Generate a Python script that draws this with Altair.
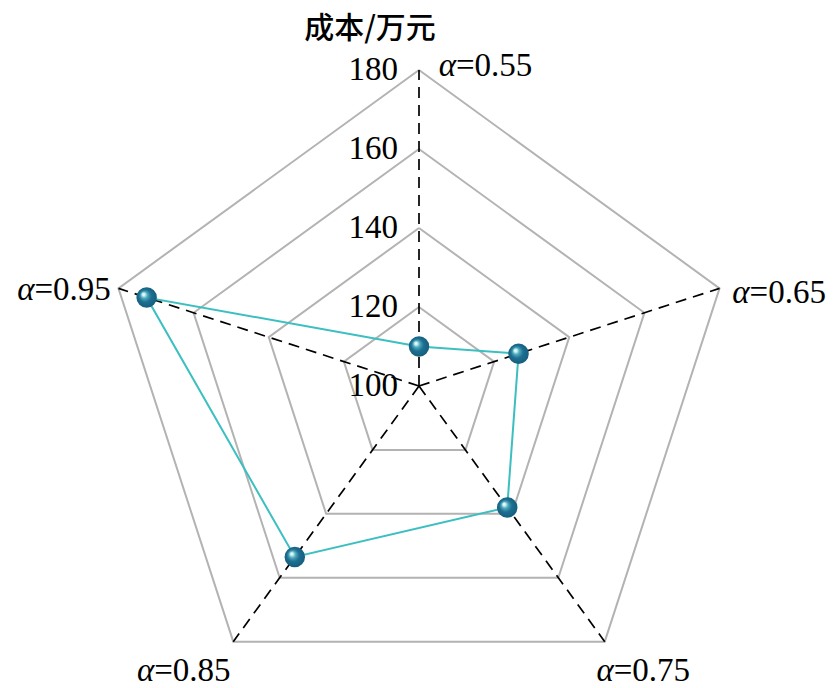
import math
import altair as alt
import pandas as pd

# ---------------- data ----------------
axis_names = ["0.55", "0.65", "0.75", "0.85", "0.95"]
cost = [110.0, 126.5, 138.0, 153.5, 172.5]
grid_levels = [120, 140, 160, 180]
tick_values = [100, 120, 140, 160, 180]
title_text = "成本/万元"
alpha_symbol = "α"

# ---------------- layout (code constants) ----------------
VMIN, VMAX = 100, 180
W, H = 819, 680
R_PX = 316.0
CX, CY = 419.0, 386.0
xmin = -(CX - 8) / R_PX
xmax = xmin + W / R_PX
ymax = (CY - 8) / R_PX
ymin = ymax - H / R_PX
SERIF = "Liberation Serif"
FS = 33
# label junction offsets (px) from each outer vertex: (dx, dy down)
label_off = [(37, -4), (30, 5), (9, 29), (-79, 29), (-84, 2)]

n = len(axis_names)


def rnorm(v):
    return (v - VMIN) / (VMAX - VMIN)


def pos(i, r):
    a = 2 * math.pi * i / n
    return r * math.sin(a), r * math.cos(a)


xs = alt.Scale(domain=[xmin, xmax], nice=False, zero=False)
ys = alt.Scale(domain=[ymin, ymax], nice=False, zero=False)

# grid pentagons
grid_rows = []
for lv in grid_levels:
    for k in range(n + 1):
        x, y = pos(k % n, rnorm(lv))
        grid_rows.append({"level": lv, "k": k, "x": x, "y": y})
grid_df = pd.DataFrame(grid_rows)

# spokes
spoke_rows = []
for i in range(n):
    x, y = pos(i, 1.0)
    spoke_rows.append({"axis": i, "k": 0, "x": 0.0, "y": 0.0})
    spoke_rows.append({"axis": i, "k": 1, "x": x, "y": y})
spoke_df = pd.DataFrame(spoke_rows)

# data polygon
line_rows = []
for k in range(n + 1):
    i = k % n
    x, y = pos(i, rnorm(cost[i]))
    line_rows.append({"k": k, "x": x, "y": y, "cost": cost[i], "axis": axis_names[i]})
line_df = pd.DataFrame(line_rows)
pt_df = line_df.iloc[:n].copy()

# tick labels
tick_df = pd.DataFrame({
    "label": [str(v) for v in tick_values],
    "x": [-21 / R_PX] * len(tick_values),
    "y": [rnorm(v) for v in tick_values],
})

# axis labels
lab_rows = []
for i, name in enumerate(axis_names):
    vx, vy = pos(i, 1.0)
    dx, dy = label_off[i]
    lab_rows.append({"a": alpha_symbol, "rest": "=" + name,
                     "x": vx + dx / R_PX, "y": vy - dy / R_PX})
lab_df = pd.DataFrame(lab_rows)

title_df = pd.DataFrame({"t": [title_text], "x": [(370 - CX) / R_PX], "y": [(CY - 29) / R_PX]})

X = alt.X("x:Q", scale=xs, axis=None)
Y = alt.Y("y:Q", scale=ys, axis=None)

grid = alt.Chart(grid_df).mark_line(color="#b3b3b3", strokeWidth=2, clip=False).encode(
    x=X, y=Y, detail="level:N", order="k:Q")

spokes = alt.Chart(spoke_df).mark_line(color="black", strokeWidth=1.7, strokeDash=[11, 7], clip=False).encode(
    x=X, y=Y, detail="axis:N", order="k:Q")

dline = alt.Chart(line_df).mark_line(color="#3cbfc0", strokeWidth=2, clip=False).encode(
    x=X, y=Y, order="k:Q")

sphere_fill = {
    "gradient": "radial",
    "x1": 0.33, "y1": 0.33, "r1": 0.0,
    "x2": 0.5, "y2": 0.5, "r2": 0.55,
    "stops": [
        {"offset": 0.0, "color": "#ffffff"},
        {"offset": 0.13, "color": "#c9f3f3"},
        {"offset": 0.3, "color": "#4fa8bc"},
        {"offset": 0.55, "color": "#1d6f92"},
        {"offset": 1.0, "color": "#145a7a"},
    ],
}
pts = alt.Chart(pt_df).mark_point(filled=True, shape="circle", size=420, fill=sphere_fill,
                                   opacity=1, clip=False).encode(x=X, y=Y)

ticks = alt.Chart(tick_df).mark_text(font=SERIF, fontSize=FS, align="right", baseline="middle",
                                     color="black").encode(x=X, y=Y, text="label:N")

lab_a = alt.Chart(lab_df).mark_text(font=SERIF, fontSize=FS, fontStyle="italic", align="right",
                                    baseline="middle", color="black").encode(x=X, y=Y, text="a:N")
lab_r = alt.Chart(lab_df).mark_text(font=SERIF, fontSize=FS, align="left",
                                    baseline="middle", color="black").encode(x=X, y=Y, text="rest:N")

title = alt.Chart(title_df).mark_text(font="Noto Sans CJK SC", fontSize=30, fontWeight=500, align="center",
                                      baseline="middle", color="black").encode(x=X, y=Y, text="t:N")

chart = alt.layer(grid, spokes, dline, pts, ticks, lab_a, lab_r, title).properties(
    width=W, height=H, padding=0, autosize=alt.AutoSizeParams(type="none")
).configure_view(stroke=None)

chart.save("out.html", embed_options={"renderer": "svg", "actions": False})
